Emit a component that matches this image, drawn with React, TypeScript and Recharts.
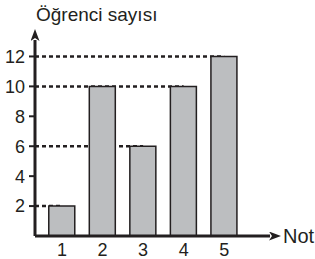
import { BarChart, Bar, XAxis, YAxis, ReferenceLine } from 'recharts'

const notlar = [1, 2, 3, 4, 5]
const ogrenciSayisi = [2, 10, 6, 10, 12]
const yTicks = [2, 4, 6, 8, 10, 12]
// dashed guides: value and the bar they run to
const guideValues = [12, 10, 6, 2]
const guideTargets = [5, 4, 3, 1]

const X_MIN = 0.333
const X_MAX = 6.13
const INK = '#231F20'
const FONT = '"Liberation Sans", Arial, sans-serif'

const data = notlar.map((n, i) => ({ not: n, sayi: ogrenciSayisi[i] }))

export default function App() {
  return (
    <div style={{ position: 'absolute', left: 0, top: 0, width: 315, height: 259, background: '#fff' }}>
      <BarChart width={315} height={259} data={data} margin={{ top: 40, right: 45, bottom: 0, left: 0 }}>
        <defs>
          <marker id="arrowHead" markerWidth="13" markerHeight="10" refX="1" refY="4.5" orient="auto-start-reverse" markerUnits="userSpaceOnUse">
            <path d="M0,0 L12,4.5 L0,9 L3,4.5 z" fill={INK} />
          </marker>
        </defs>
        <XAxis
          dataKey="not"
          type="number"
          domain={[X_MIN, X_MAX]}
          ticks={notlar}
          allowDataOverflow
          height={23}
          axisLine={{ stroke: INK, strokeWidth: 3, markerEnd: 'url(#arrowHead)' }}
          tickLine={false}
          tickSize={6}
          tickMargin={1}
          tick={{ fontSize: 18, fill: INK, fontFamily: FONT }}
        />
        <YAxis
          domain={[0, 13.1]}
          ticks={yTicks}
          allowDataOverflow
          width={35}
          axisLine={{ stroke: INK, strokeWidth: 3, markerStart: 'url(#arrowHead)' }}
          tickLine={{ stroke: INK, strokeWidth: 2 }}
          tickSize={6}
          tickMargin={4}
          tick={{ fontSize: 18, fill: INK, fontFamily: FONT }}
        />
        {guideValues.map((v, i) => (
          <ReferenceLine
            key={v}
            segment={[{ x: X_MIN, y: v }, { x: guideTargets[i], y: v }]}
            stroke={INK}
            strokeWidth={2.5}
            strokeDasharray="4 3"
            zIndex={100}
          />
        ))}
        <Bar dataKey="sayi" fill="#BCBEC0" stroke={INK} strokeWidth={1.5} barSize={26} isAnimationActive={false} />
      </BarChart>
      <div style={{ position: 'absolute', left: 36, top: 5, fontSize: 19, lineHeight: '19px', fontFamily: FONT, color: INK, whiteSpace: 'nowrap' }}>
        Öğrenci sayısı
      </div>
      <div style={{ position: 'absolute', left: 283, top: 226, fontSize: 20, lineHeight: '20px', fontFamily: FONT, color: INK, whiteSpace: 'nowrap' }}>
        Not
      </div>
    </div>
  )
}
